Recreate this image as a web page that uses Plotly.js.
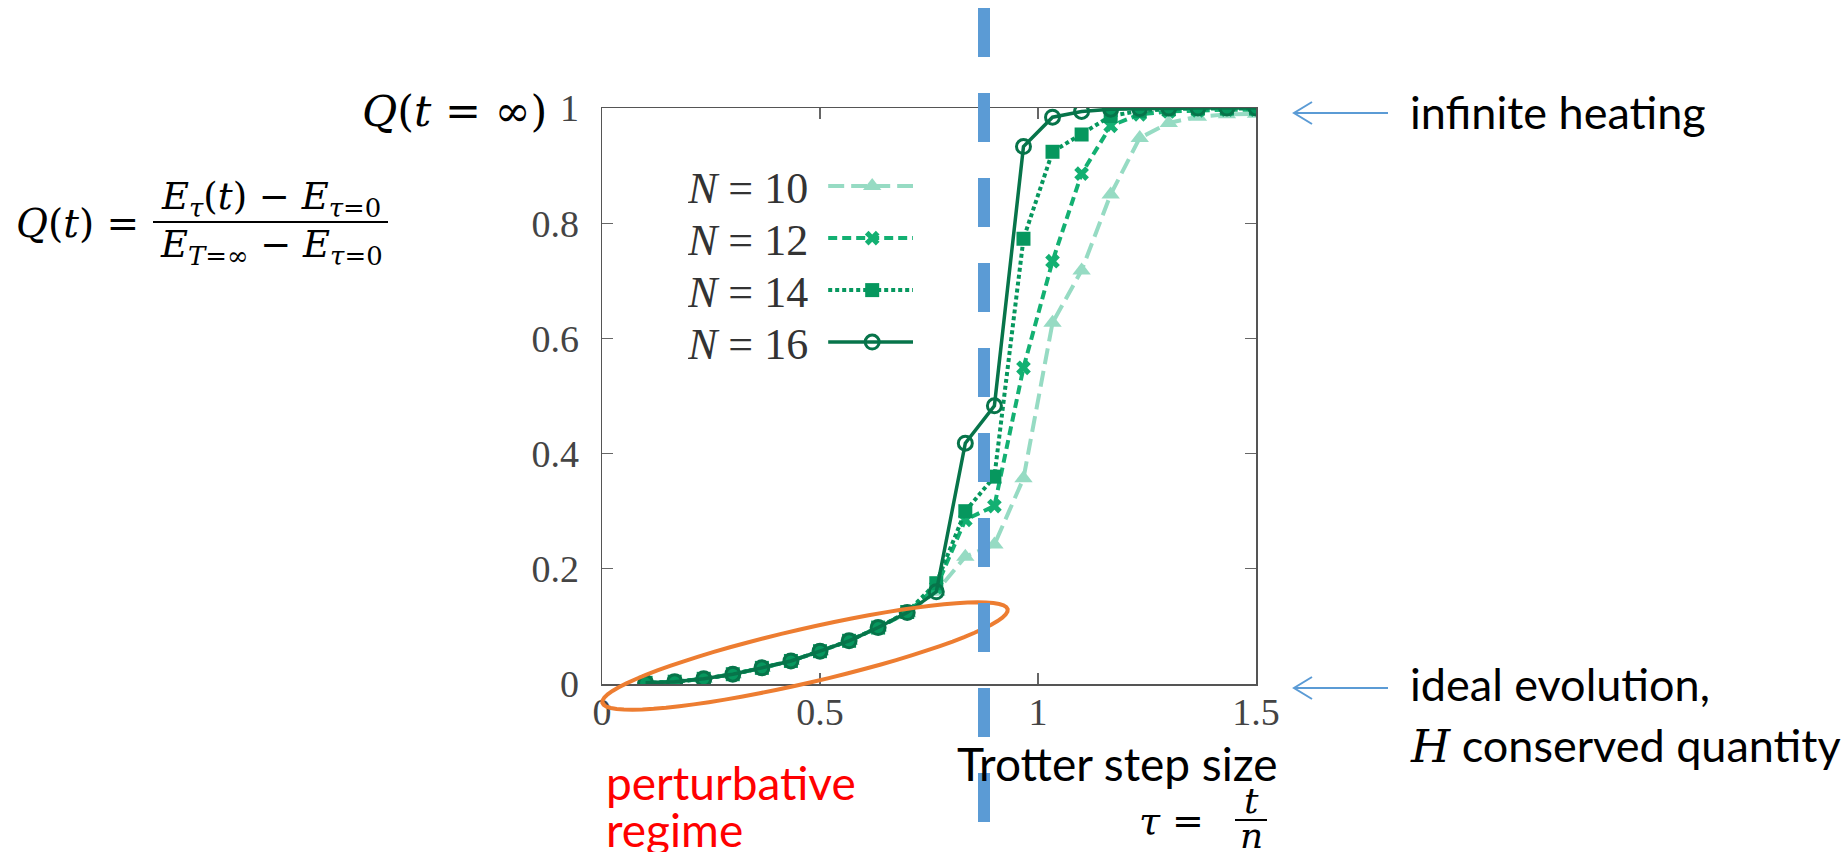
<!DOCTYPE html>
<html>
<head>
<meta charset="utf-8">
<script src="https://cdn.plot.ly/plotly-3.0.1.min.js"></script>
<style>
  html, body { margin: 0; padding: 0; background: #ffffff; }
  #chart { width: 1845px; height: 852px; }
</style>
</head>
<body>
<div id="chart"></div>
<script>
// ---- data ----
const tau = [0.1, 0.1667, 0.2333, 0.3, 0.3667, 0.4333, 0.5, 0.5667, 0.6333, 0.7, 0.7667,
             0.8333, 0.9, 0.9667, 1.0333, 1.1, 1.1667, 1.2333, 1.3, 1.3667, 1.4333, 1.5];
const qN10 = [0.002, 0.004, 0.009, 0.017, 0.028, 0.040, 0.057, 0.075, 0.098, 0.123, 0.160,
              0.221, 0.242, 0.357, 0.627, 0.718, 0.850, 0.948, 0.974, 0.985, 0.989, 0.990];
const qN12 = [0.002, 0.004, 0.009, 0.017, 0.028, 0.040, 0.057, 0.075, 0.098, 0.124, 0.168,
              0.285, 0.309, 0.549, 0.734, 0.886, 0.969, 0.989, 0.994, 0.996, 0.997, 0.997];
const qN14 = [0.002, 0.004, 0.009, 0.017, 0.028, 0.040, 0.057, 0.075, 0.098, 0.125, 0.175,
              0.300, 0.360, 0.773, 0.924, 0.954, 0.986, 0.995, 0.998, 0.999, 0.999, 0.999];
const qN16 = [0.002, 0.004, 0.009, 0.017, 0.028, 0.040, 0.057, 0.075, 0.098, 0.124, 0.160,
              0.418, 0.483, 0.933, 0.984, 0.994, 0.998, 0.999, 1.000, 1.000, 1.000, 1.000];
const seriesNames = ['<i>N</i> = 10', '<i>N</i> = 12', '<i>N</i> = 14', '<i>N</i> = 16'];
const xTicks = [0, 0.5, 1, 1.5];
const yTicks = [0, 0.2, 0.4, 0.6, 0.8, 1];

// ---- geometry helpers (plot area in page pixels) ----
const P = {l: 602, t: 108, w: 654, h: 576};
const fx = px => (px - P.l) / P.w;
const fy = py => (P.t + P.h - py) / P.h;

const MATH = 'DejaVu Serif';
const CM = 'Liberation Serif';
const SANS = 'Lato';

const traces = [
  {x: tau, y: qN10, name: seriesNames[0], mode: 'lines+markers',
   line: {color: '#96dbc3', width: 4, dash: '16px,7px'},
   marker: {symbol: 'triangle-up', size: 16, color: '#96dbc3'}},
  {x: tau, y: qN12, name: seriesNames[1], mode: 'lines+markers',
   line: {color: '#13b072', width: 4, dash: '9px,5px'},
   marker: {symbol: 'x', size: 13, color: '#13b072', line: {width: 0}}},
  {x: tau, y: qN14, name: seriesNames[2], mode: 'lines+markers',
   line: {color: '#06975e', width: 4, dash: '4px,3px'},
   marker: {symbol: 'square', size: 14, color: '#06975e'}},
  {x: tau, y: qN16, name: seriesNames[3], mode: 'lines+markers',
   line: {color: '#07744a', width: 3.5},
   marker: {symbol: 'circle-open', size: 14, color: '#07744a', line: {width: 3, color: '#07744a'}}}
];

// rotated ellipse (perturbative regime) as an SVG path in paper coordinates
function ellipsePath(cx, cy, a, b, deg) {
  const th = deg * Math.PI / 180;
  let d = '';
  for (let i = 0; i <= 72; i++) {
    const t = i / 72 * 2 * Math.PI;
    const ex = a * Math.cos(t), ey = b * Math.sin(t);
    const px = cx + ex * Math.cos(th) + ey * Math.sin(th);
    const py = cy - ex * Math.sin(th) + ey * Math.cos(th);
    d += (i === 0 ? 'M' : 'L') + fx(px).toFixed(5) + ',' + fy(py).toFixed(5);
  }
  return d + 'Z';
}
// thin left-pointing arrow: shaft + open chevron head
function arrowShapes(xHead, yMid, len) {
  const c = {color: '#5b9bd5', width: 2};
  return [
    {type: 'line', xref: 'paper', yref: 'paper', x0: fx(xHead), x1: fx(xHead + len),
     y0: fy(yMid), y1: fy(yMid), line: c},
    {type: 'path', xref: 'paper', yref: 'paper', line: c,
     path: 'M' + fx(xHead + 18).toFixed(5) + ',' + fy(yMid - 11).toFixed(5) +
           'L' + fx(xHead).toFixed(5) + ',' + fy(yMid).toFixed(5) +
           'L' + fx(xHead + 18).toFixed(5) + ',' + fy(yMid + 11).toFixed(5)}
  ];
}

const shapes = [
  {type: 'path', xref: 'paper', yref: 'paper', path: ellipsePath(805, 656, 208, 27, 13),
   line: {color: '#ed7d31', width: 4}},
  {type: 'line', xref: 'paper', yref: 'paper', x0: fx(984), x1: fx(984), y0: fy(8), y1: fy(870),
   line: {color: '#5b9bd5', width: 12, dash: '49px,36px'}},
  // fraction bars
  {type: 'line', xref: 'paper', yref: 'paper', x0: fx(153), x1: fx(388), y0: fy(222), y1: fy(222),
   line: {color: '#000', width: 2}},
  {type: 'line', xref: 'paper', yref: 'paper', x0: fx(1235), x1: fx(1267), y0: fy(820), y1: fy(820),
   line: {color: '#000', width: 2}}
].concat(arrowShapes(1294, 113, 94), arrowShapes(1294, 688, 94));

function txt(text, px, py, size, family, anchor, color) {
  return {text: text, xref: 'paper', yref: 'paper', x: fx(px), y: fy(py), showarrow: false,
          xanchor: anchor || 'center', yanchor: 'middle',
          font: {size: size, family: family, color: color || '#000'}};
}

const annotations = [
  txt('<i>Q</i>(<i>t</i> = ∞)', 549, 111, 43, MATH, 'right'),
  txt('<i>Q</i>(<i>t</i>) =', 141, 223, 39, MATH, 'right'),
  txt('<i>E</i><sub><i>τ</i></sub>(<i>t</i>) − <i>E</i><sub><i>τ</i>=0</sub>', 271, 199, 37, MATH, 'center'),
  txt('<i>E</i><sub><i>T</i>=∞</sub> − <i>E</i><sub><i>τ</i>=0</sub>', 271, 247, 37, MATH, 'center'),
  txt('infinite heating', 1408, 112, 45, SANS, 'left'),
  txt('ideal evolution,', 1408, 684, 45, SANS, 'left'),
  txt('<span style="font-family:DejaVu Serif;font-style:italic">H</span> conserved quantity', 1408, 745, 45, SANS, 'left'),
  txt('perturbative', 604, 782, 46, SANS, 'left', '#ff0000'),
  txt('regime', 604, 829, 46, SANS, 'left', '#ff0000'),
  txt('Trotter step size', 1279, 763, 46, SANS, 'right'),
  txt('<i>τ</i> =', 1206, 821, 38, MATH, 'right'),
  txt('<i>t</i>', 1251, 800, 36, MATH, 'center'),
  txt('<i>n</i>', 1251, 835, 36, MATH, 'center')
];

const axisCommon = {
  showgrid: false, zeroline: false, showline: true, linecolor: '#555', linewidth: 1.5,
  ticks: 'inside', ticklen: 11, tickwidth: 1.2, tickcolor: '#666', mirror: 'ticks',
  tickfont: {family: CM, size: 38, color: '#444'}
};

const layout = {
  width: 1845, height: 852,
  margin: {l: P.l, r: 1845 - P.l - P.w, t: P.t, b: 852 - P.t - P.h},
  paper_bgcolor: '#ffffff', plot_bgcolor: '#ffffff',
  showlegend: true,
  legend: {x: fx(688), y: fy(151), xanchor: 'left', yanchor: 'top',
           bgcolor: 'rgba(0,0,0,0)', borderwidth: 0, itemwidth: 88,
           font: {family: CM, size: 44, color: '#333'}, tracegroupgap: 0},
  xaxis: Object.assign({}, axisCommon, {range: [0, 1.5], tickvals: xTicks, ticklabelstandoff: -6}),
  yaxis: Object.assign({}, axisCommon, {range: [0, 1], tickvals: yTicks, ticklabelstandoff: 14}),
  shapes: shapes,
  annotations: annotations,
  hovermode: false
};

// put the legend text to the left of the line sample and tighten row spacing, as in the reference
function legendTextLeft() {
  const gd = document.getElementById('chart');
  const items = gd.querySelectorAll('.legend .traces');
  let y0 = null;
  items.forEach((tr, i) => {
    const t = tr.querySelector('text.legendtext');
    const layers = tr.querySelector('g.layers');
    if (!t || !layers) return;
    t.setAttribute('x', 0);
    const w = t.getBBox().width;
    layers.setAttribute('transform', 'translate(' + (w + 14) + ',0)');
    const m = /translate\(\s*([-\d.]+)[ ,]+([-\d.]+)\s*\)/.exec(tr.getAttribute('transform') || '');
    if (m) {
      const x = parseFloat(m[1]), y = parseFloat(m[2]);
      if (y0 === null) y0 = y;
      tr.setAttribute('transform', 'translate(' + x + ',' + (y0 + i * 52) + ')');
    }
  });
}

const gd = document.getElementById('chart');
Plotly.newPlot(gd, traces, layout, {displayModeBar: false, staticPlot: true}).then(() => {
  legendTextLeft();
  gd.on && gd.on('plotly_afterplot', legendTextLeft);
});
</script>
</body>
</html>
